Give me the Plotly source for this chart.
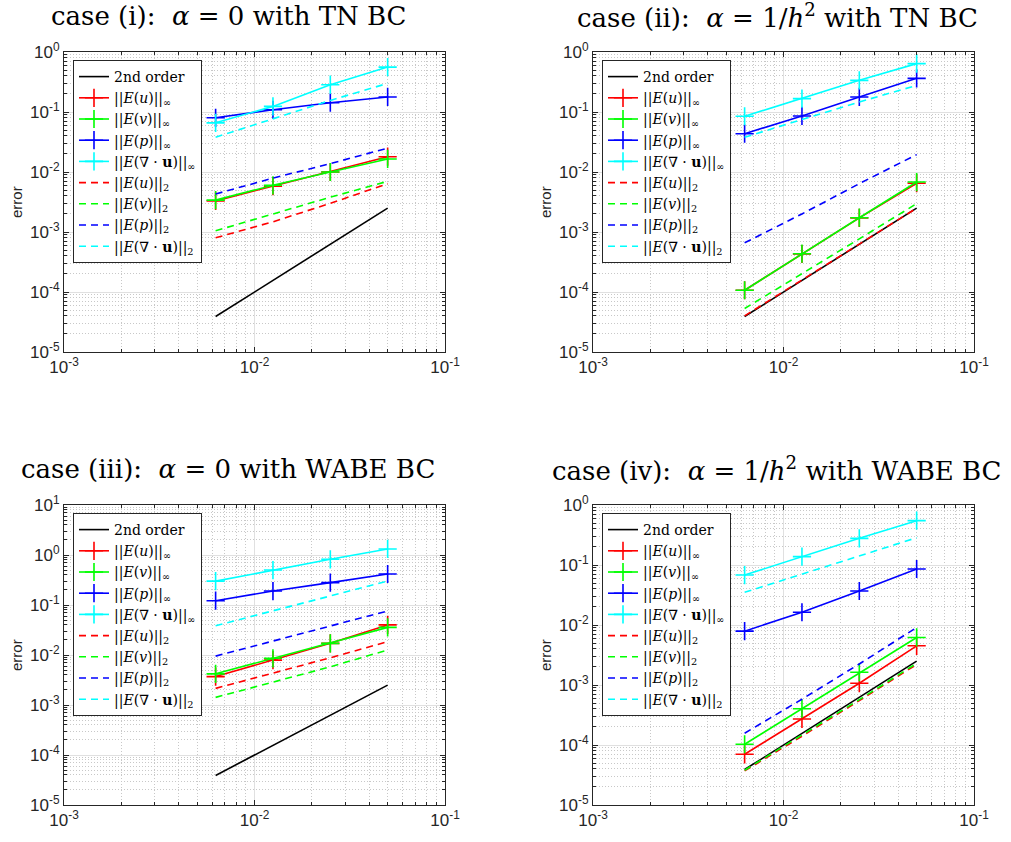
import plotly.graph_objects as go

# ---------------- data ----------------
h = [0.00625, 0.0125, 0.025, 0.05]
order2 = [3.9e-5, 1.56e-4, 6.25e-4, 2.5e-3]

c1_u_inf = [3.3e-3, 5.8e-3, 1.0e-2, 1.8e-2]
c1_v_inf = [3.4e-3, 6.0e-3, 1.0e-2, 1.65e-2]
c1_p_inf = [0.080, 0.109, 0.143, 0.178]
c1_d_inf = [0.066, 0.124, 0.285, 0.56]
c1_u_2 = [8.0e-4, 1.48e-3, 3.0e-3, 6.4e-3]
c1_v_2 = [1.05e-3, 2.0e-3, 3.8e-3, 7.0e-3]
c1_p_2 = [4.3e-3, 7.9e-3, 0.0138, 0.025]
c1_d_2 = [0.038, 0.077, 0.156, 0.30]

c2_u_inf = [1.07e-4, 4.3e-4, 1.72e-3, 6.5e-3]
c2_v_inf = [1.07e-4, 4.35e-4, 1.73e-3, 6.8e-3]
c2_p_inf = [0.0435, 0.086, 0.178, 0.364]
c2_d_inf = [0.085, 0.167, 0.337, 0.64]
c2_u_2 = [4.0e-5, 1.6e-4, 6.3e-4, 2.5e-3]
c2_v_2 = [5.3e-5, 2.0e-4, 7.7e-4, 2.97e-3]
c2_p_2 = [6.6e-4, 2.0e-3, 6.4e-3, 0.0195]
c2_d_2 = [0.038, 0.0745, 0.147, 0.278]

c3_u_inf = [3.7e-3, 7.9e-3, 0.0171, 0.040]
c3_v_inf = [4.2e-3, 8.6e-3, 0.0171, 0.0357]
c3_p_inf = [0.122, 0.19, 0.28, 0.417]
c3_d_inf = [0.30, 0.50, 0.82, 1.32]
c3_u_2 = [2.15e-3, 4.3e-3, 8.8e-3, 0.0185]
c3_v_2 = [1.42e-3, 2.84e-3, 5.8e-3, 0.0126]
c3_p_2 = [9.5e-3, 0.019, 0.038, 0.076]
c3_d_2 = [0.0386, 0.077, 0.154, 0.30]

c4_u_inf = [7.0e-5, 2.71e-4, 1.07e-3, 4.5e-3]
c4_v_inf = [1.03e-4, 4.03e-4, 1.63e-3, 6.2e-3]
c4_p_inf = [7.9e-3, 0.0163, 0.0369, 0.0858]
c4_d_inf = [0.068, 0.138, 0.278, 0.548]
c4_u_2 = [3.7e-5, 1.4e-4, 5.5e-4, 2.2e-3]
c4_v_2 = [3.8e-5, 1.45e-4, 5.7e-4, 2.3e-3]
c4_p_2 = [1.57e-4, 5.8e-4, 2.24e-3, 9.1e-3]
c4_d_2 = [0.035, 0.0708, 0.143, 0.285]

titles = [
    "case (i):  <i>α</i> = 0 with TN BC",
    "case (ii):  <i>α</i> = 1/<i>h</i><sup>2</sup> with TN BC",
    "case (iii):  <i>α</i> = 0 with WABE BC",
    "case (iv):  <i>α</i> = 1/<i>h</i><sup>2</sup> with WABE BC",
]
legend_names = [
    "2nd order",
    "||<i>E</i>(<i>u</i>)||<sub>∞</sub>",
    "||<i>E</i>(<i>v</i>)||<sub>∞</sub>",
    "||<i>E</i>(<i>p</i>)||<sub>∞</sub>",
    "||<i>E</i>(∇ · <b>u</b>)||<sub>∞</sub>",
    "||<i>E</i>(<i>u</i>)||<sub>2</sub>",
    "||<i>E</i>(<i>v</i>)||<sub>2</sub>",
    "||<i>E</i>(<i>p</i>)||<sub>2</sub>",
    "||<i>E</i>(∇ · <b>u</b>)||<sub>2</sub>",
]
x_exps = [-3, -1]
y_exps = [[-5, 0], [-5, 0], [-5, 1], [-5, 0]]

cases = [
    [c1_u_inf, c1_v_inf, c1_p_inf, c1_d_inf, c1_u_2, c1_v_2, c1_p_2, c1_d_2],
    [c2_u_inf, c2_v_inf, c2_p_inf, c2_d_inf, c2_u_2, c2_v_2, c2_p_2, c2_d_2],
    [c3_u_inf, c3_v_inf, c3_p_inf, c3_d_inf, c3_u_2, c3_v_2, c3_p_2, c3_d_2],
    [c4_u_inf, c4_v_inf, c4_p_inf, c4_d_inf, c4_u_2, c4_v_2, c4_p_2, c4_d_2],
]

# ---------------- layout geometry (pixels) ----------------
W, H = 1011, 842
boxes = [  # left, right, top, bottom
    (64, 445, 52, 352),
    (593, 974, 52, 352),
    (64, 445, 505, 805),
    (593, 974, 505, 805),
]
title_pos = [(229, 16), (777, 16), (228, 469), (777, 469)]
ylabel_x = [16, 545, 16, 545]
legend_pos = [(73, 60), (602, 60), (73, 513), (602, 513)]

colors = ["#ff0000", "#00ff00", "#0000ff", "#00ffff"]
AX = "#262626"


def decade_ticks(e0, e1):
    major = [10.0 ** e for e in range(e0, e1 + 1)]
    text = [f"10<sup>{e}</sup>" for e in range(e0, e1 + 1)]
    minor = [m * 10.0 ** e for e in range(e0, e1) for m in range(2, 10)]
    return major, text, minor


fig = go.Figure()
layout = dict(
    width=W, height=H, autosize=False,
    margin=dict(l=0, r=0, t=0, b=0, pad=0, autoexpand=False),
    paper_bgcolor="white", plot_bgcolor="white",
    showlegend=True,
    annotations=[],
)

for k in range(4):
    xa = "x" if k == 0 else f"x{k+1}"
    ya = "y" if k == 0 else f"y{k+1}"
    lg = "legend" if k == 0 else f"legend{k+1}"
    data = cases[k]
    fig.add_trace(go.Scatter(x=h, y=order2, mode="lines", name=legend_names[0],
                             line=dict(color="black", width=1.6),
                             xaxis=xa, yaxis=ya, legend=lg))
    for j in range(4):
        fig.add_trace(go.Scatter(x=h, y=data[j], mode="lines+markers", name=legend_names[1 + j],
                                 line=dict(color=colors[j], width=1.6),
                                 marker=dict(symbol="cross-thin", size=13,
                                             line=dict(color=colors[j], width=1.6)),
                                 xaxis=xa, yaxis=ya, legend=lg))
    for j in range(4):
        fig.add_trace(go.Scatter(x=h, y=data[4 + j], mode="lines", name=legend_names[5 + j],
                                 line=dict(color=colors[j], width=1.6, dash="7px,5px"),
                                 xaxis=xa, yaxis=ya, legend=lg))

    l, r, t, b = boxes[k]
    e0, e1 = y_exps[k]
    xmaj, xtxt, xmin = decade_ticks(*x_exps)
    ymaj, ytxt, ymin = decade_ticks(e0, e1)
    axcommon = dict(
        type="log", showline=True, mirror="allticks", linecolor=AX, linewidth=1,
        ticks="inside", ticklen=5, tickcolor=AX, tickmode="array",
        showgrid=True, gridcolor="#e0e0e0", gridwidth=1,
        zeroline=False, automargin=False,
        tickfont=dict(family="Liberation Sans, Arial, sans-serif", size=17, color="#262626"),
    )
    minorcommon = dict(ticks="inside", ticklen=3, tickcolor=AX, showgrid=True,
                       gridcolor="#c8c8c8", griddash="1px,2px", gridwidth=1, tickmode="array")
    layout["xaxis" if k == 0 else f"xaxis{k+1}"] = dict(
        axcommon, domain=[l / W, r / W], range=x_exps, anchor=ya,
        tickvals=xmaj, ticktext=xtxt, minor=dict(minorcommon, tickvals=xmin),
    )
    layout["yaxis" if k == 0 else f"yaxis{k+1}"] = dict(
        axcommon, domain=[1 - b / H, 1 - t / H], range=[e0, e1], anchor=xa,
        tickvals=ymaj, ticktext=ytxt, minor=dict(minorcommon, tickvals=ymin),
    )
    lx, ly = legend_pos[k]
    layout[lg] = dict(
        x=lx / W, y=1 - ly / H, xanchor="left", yanchor="top",
        xref="paper", yref="paper",
        bgcolor="white", bordercolor=AX, borderwidth=1,
        font=dict(family="DejaVu Serif, serif", size=14, color="black"),
        tracegroupgap=0, itemwidth=30,
    )
    tx, ty = title_pos[k]
    layout["annotations"].append(dict(
        text=titles[k], x=tx / W, y=1 - ty / H, xref="paper", yref="paper",
        xanchor="center", yanchor="middle", showarrow=False,
        font=dict(family="DejaVu Serif, serif", size=26, color="black"),
    ))
    layout["annotations"].append(dict(
        text="error", x=ylabel_x[k] / W, y=1 - (t + b) / 2 / H, xref="paper", yref="paper",
        xanchor="center", yanchor="middle", showarrow=False, textangle=-90,
        font=dict(family="Liberation Sans, Arial, sans-serif", size=15, color="#262626"),
    ))

fig.update_layout(**layout)
fig.write_html("out.html", post_script="document.body.style.margin='0px';")
